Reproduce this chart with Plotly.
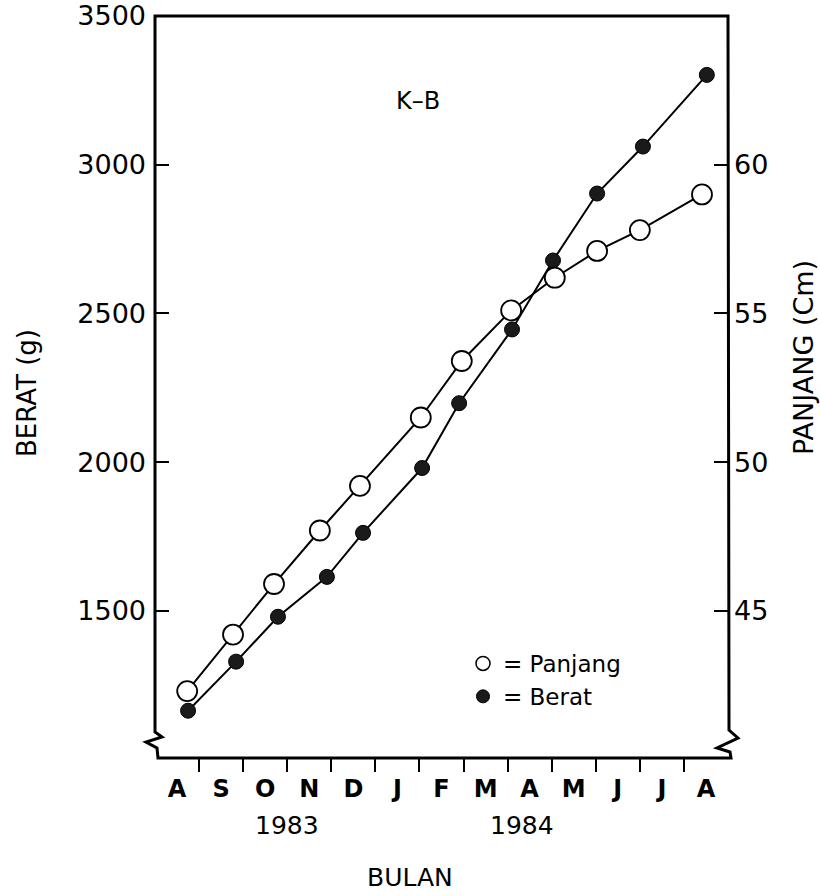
import plotly.graph_objects as go

# Month positions run from 0 (start of Aug 1983) to 13 (end of Aug 1984)
month_labels = ["A", "S", "O", "N", "D", "J", "F", "M", "A", "M", "J", "J", "A"]
month_centers = [i + 0.5 for i in range(13)]
month_bounds = list(range(1, 13))

# Body length (cm), right axis
panjang_x = [0.73, 1.77, 2.70, 3.74, 4.65, 6.03, 6.96, 8.08, 9.07, 10.03, 11.00, 12.41]
panjang_cm = [42.3, 44.2, 45.9, 47.7, 49.2, 51.5, 53.4, 55.1, 56.2, 57.1, 57.8, 59.0]

# Body weight (g), left axis
berat_x = [0.75, 1.84, 2.79, 3.90, 4.72, 6.06, 6.90, 8.10, 9.03, 10.03, 11.07, 12.52]
berat_g = [1164, 1329, 1480, 1614, 1762, 1980, 2198, 2446, 2678, 2903, 3061, 3302]

berat_ticks = [1500, 2000, 2500, 3000, 3500]
panjang_ticks = [45, 50, 55, 60]
berat_range = [1005, 3500]
panjang_range = [berat_range[0] / 100 + 30, berat_range[1] / 100 + 30]

W, H = 820, 896
L, R, T, B = 155, 92, 16, 138
FONT = "DejaVu Sans"


def P(px, py):
    """Figure pixel -> paper coordinates."""
    return (px - L) / (W - L - R), (H - B - py) / (H - T - B)


fig = go.Figure()

fig.add_trace(go.Scatter(
    x=berat_x, y=berat_g, mode="lines+markers", yaxis="y",
    line=dict(color="black", width=2),
    marker=dict(symbol="circle", size=15, color="#1a1a1a",
                line=dict(color="black", width=1)),
    showlegend=False, name="Berat"))

fig.add_trace(go.Scatter(
    x=panjang_x, y=panjang_cm, mode="lines+markers", yaxis="y2",
    line=dict(color="black", width=2),
    marker=dict(symbol="circle", size=20, color="white",
                line=dict(color="black", width=1.8)),
    showlegend=False, name="Panjang"))

# legend keys
fig.add_trace(go.Scatter(
    x=[None], y=[None], mode="markers", name="= Panjang",
    marker=dict(symbol="circle", size=14, color="white",
                line=dict(color="black", width=1.5))))
fig.add_trace(go.Scatter(
    x=[None], y=[None], mode="markers", name="= Berat",
    marker=dict(symbol="circle", size=13, color="#1a1a1a",
                line=dict(color="black", width=1))))

# frame with axis-break squiggles at both lower corners
pts = [
    (158, 758), (157, 748), (146, 742), (162, 737), (155, 732),
    (155, 16), (728, 16), (729, 730), (738, 738), (717, 748),
    (730, 752), (731, 758),
]
path = "M " + " L ".join("{:.5f},{:.5f}".format(*P(x, y)) for x, y in pts) + " Z"
fig.add_shape(type="path", path=path, xref="paper", yref="paper",
              line=dict(color="black", width=3), fillcolor="rgba(0,0,0,0)")

ann_font = dict(family=FONT, size=25, color="black")
annotations = [
    dict(text="BERAT (g)", textangle=-90, x=P(27, 0)[0], y=P(0, 393)[1],
         font=dict(family=FONT, size=26, color="black")),
    dict(text="PANJANG (Cm)", textangle=-90, x=P(803, 0)[0], y=P(0, 358)[1],
         font=dict(family=FONT, size=27, color="black")),
    dict(text="1983", x=P(287, 0)[0], y=P(0, 825)[1], font=ann_font),
    dict(text="1984", x=P(522, 0)[0], y=P(0, 825)[1], font=ann_font),
    dict(text="BULAN", x=P(410, 0)[0], y=P(0, 877)[1],
         font=dict(family=FONT, size=25, color="black")),
    dict(text="K–B", x=P(418, 0)[0], y=P(0, 101)[1],
         font=dict(family=FONT, size=24, color="black")),
]
for a in annotations:
    a.update(xref="paper", yref="paper", showarrow=False,
             xanchor="center", yanchor="middle")

fig.update_layout(
    width=W, height=H,
    margin=dict(l=L, r=R, t=T, b=B, pad=0, autoexpand=False),
    paper_bgcolor="white", plot_bgcolor="white",
    font=dict(family=FONT, color="black"),
    annotations=annotations,
    xaxis=dict(
        range=[0, 13], showgrid=False, zeroline=False, showline=False,
        automargin=False,
        tickmode="array", tickvals=month_centers, ticktext=month_labels,
        ticks="", ticklabelstandoff=14,
        tickfont=dict(family=FONT, size=24, color="black", weight="bold"),
        minor=dict(tickmode="array", tickvals=month_bounds, ticks="outside",
                   ticklen=13, tickwidth=2, tickcolor="black", showgrid=False),
    ),
    yaxis=dict(
        range=berat_range, showgrid=False, zeroline=False, showline=False,
        automargin=False,
        tickmode="array", tickvals=berat_ticks, ticks="inside",
        ticklen=14, tickwidth=2, tickcolor="black", ticklabelstandoff=8,
        tickfont=dict(family=FONT, size=27, color="black"),
    ),
    yaxis2=dict(
        range=panjang_range, overlaying="y", side="right",
        showgrid=False, zeroline=False, showline=False,
        automargin=False,
        tickmode="array", tickvals=panjang_ticks, ticks="inside",
        ticklen=14, tickwidth=2, tickcolor="black", ticklabelstandoff=5,
        tickfont=dict(family=FONT, size=27, color="black"),
    ),
    legend=dict(
        x=P(463, 0)[0], y=P(0, 642)[1], xanchor="left", yanchor="top",
        bgcolor="rgba(0,0,0,0)", borderwidth=0,
        font=dict(family=FONT, size=23, color="black"),
        itemsizing="trace", tracegroupgap=0,
    ),
)

fig.write_html("out.html")
